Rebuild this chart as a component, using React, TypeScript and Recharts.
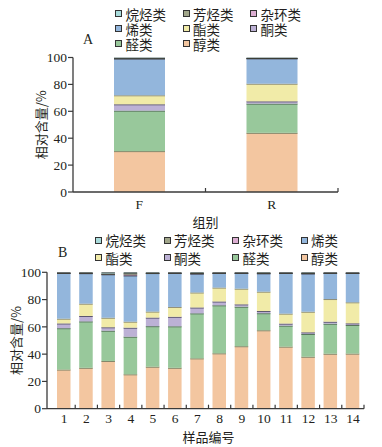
import { BarChart, Bar, XAxis, YAxis, Label } from 'recharts'

const groupsA = ['F', 'R']
const samplesB = ['1', '2', '3', '4', '5', '6', '7', '8', '9', '10', '11', '12', '13', '14']
const yTicks = [0, 20, 40, 60, 80, 100]

// values per class, A = groups F/R
const alcoholA = [30.4, 44.0]
const aldehydeA = [30.1, 21.7]
const ketoneA = [4.7, 1.7]
const esterA = [6.7, 13.1]
const olefinA = [27.4, 18.9]
const heteroA = [0.1, 0.1]
const aromaticA = [0.1, 0.1]
const alkaneA = [0.5, 0.4]

// B = samples 1..14
const alcoholB = [28.7, 30.0, 35.0, 25.2, 30.8, 30.0, 36.9, 40.6, 45.8, 57.5, 45.5, 38.1, 40.3, 40.4]
const aldehydeB = [30.3, 34.0, 22.2, 27.6, 29.7, 30.4, 33.0, 35.2, 29.0, 12.5, 15.4, 16.7, 22.0, 21.0]
const ketoneB = [3.5, 4.0, 2.5, 6.6, 6.3, 7.0, 4.3, 2.8, 1.7, 1.6, 1.5, 1.2, 1.5, 1.2]
const esterB = [3.5, 9.0, 7.0, 4.4, 4.4, 7.2, 11.0, 10.2, 11.5, 14.2, 7.3, 15.1, 16.6, 15.4]
const olefinB = [33.5, 22.3, 31.8, 33.7, 28.2, 24.9, 13.8, 10.7, 11.5, 13.4, 29.8, 28.0, 19.1, 21.5]
const heteroB = [0.1, 0.2, 0.2, 0.8, 0.1, 0.1, 0.2, 0.1, 0.1, 0.2, 0.1, 0.2, 0.1, 0.1]
const aromaticB = [0.1, 0.2, 0.3, 1.0, 0.1, 0.1, 0.3, 0.1, 0.1, 0.2, 0.1, 0.2, 0.1, 0.1]
const alkaneB = [0.3, 0.3, 1.0, 0.7, 0.4, 0.3, 0.5, 0.3, 0.3, 0.4, 0.3, 0.5, 0.3, 0.3]

// stack order, bottom -> top
const classes = [
  { key: 'alcohol', name: '醇类', fill: '#f3c6a0', edge: '#7e8468' },
  { key: 'aldehyde', name: '醛类', fill: '#98c89b', edge: '#56705a' },
  { key: 'ketone', name: '酮类', fill: '#bcb1d5', edge: '#55506a' },
  { key: 'ester', name: '酯类', fill: '#f1eba8', edge: '#8e8c76' },
  { key: 'olefin', name: '烯类', fill: '#93b6dc', edge: '#5f7288' },
  { key: 'hetero', name: '杂环类', fill: '#dcaed2', edge: '#4a3848' },
  { key: 'aromatic', name: '芳烃类', fill: '#a1a68a', edge: '#4c5040' },
  { key: 'alkane', name: '烷烃类', fill: '#a9dcdc', edge: '#262626' },
]

const rowsA = groupsA.map((name, i) => ({
  name,
  alcohol: alcoholA[i], aldehyde: aldehydeA[i], ketone: ketoneA[i], ester: esterA[i],
  olefin: olefinA[i], hetero: heteroA[i], aromatic: aromaticA[i], alkane: alkaneA[i],
}))
const rowsB = samplesB.map((name, i) => ({
  name,
  alcohol: alcoholB[i], aldehyde: aldehydeB[i], ketone: ketoneB[i], ester: esterB[i],
  olefin: olefinB[i], hetero: heteroB[i], aromatic: aromaticB[i], alkane: alkaneB[i],
}))

const INK = '#231f20'
const AXIS = '#3a3a3a'
const SERIF = '"Liberation Serif", "Times New Roman", serif'
const CJK = '"Noto Sans CJK SC", sans-serif'

function Segment(props: any) {
  const { x, y, width, height, fill, edge } = props
  if (!(height > 0)) return null
  return (
    <g>
      <rect x={x} y={y} width={width} height={height} fill={fill} />
      <line x1={x} x2={x + width} y1={y + 0.5} y2={y + 0.5} stroke={edge} strokeWidth={1} />
    </g>
  )
}

interface StackProps {
  data: any[]; w: number; h: number; top: number; left: number; right: number
  axisH: number; padL: number; barSize: number; xTitle: string
  tickDy: number; titleDy: number; yTitleX: number
}

function Stack({ data, w, h, top, left, right, axisH, padL, barSize, xTitle, tickDy, titleDy, yTitleX }: StackProps) {
  const band = (w - left - right - padL) / data.length
  const xTick = (p: any) => (
    <g>
      <line x1={p.x + band / 2} x2={p.x + band / 2} y1={p.y} y2={p.y - 4} stroke={AXIS} strokeWidth={1.2} />
      <text x={p.x} y={p.y + tickDy} textAnchor="middle" dominantBaseline="central"
        fontFamily={SERIF} fontSize={13.5} fill={INK}>{p.payload.value}</text>
    </g>
  )
  return (
    <BarChart width={w} height={h} data={data} barSize={barSize}
      margin={{ top, right, left: 0, bottom: 0 }}>
      <XAxis dataKey="name" height={axisH} interval={0} padding={{ left: padL, right: 0 }}
        tickSize={0} tickMargin={0} tick={xTick} tickLine={false}
        axisLine={{ stroke: AXIS, strokeWidth: 1.3 }}>
        <Label content={(lp: any) => {
          const vb = lp.viewBox
          return (
            <text x={vb.x + padL + (vb.width - padL) / 2} y={vb.y + titleDy} textAnchor="middle"
              dominantBaseline="central" fontFamily={CJK} fontSize={13} fill={INK}>{xTitle}</text>
          )
        }} />
      </XAxis>
      <YAxis width={left} domain={[0, 100]} ticks={yTicks} allowDataOverflow
        tickSize={5} tickMargin={1}
        tickLine={{ stroke: AXIS, strokeWidth: 1.2 }}
        axisLine={{ stroke: AXIS, strokeWidth: 1.3 }}
        tick={{ fontFamily: SERIF, fontSize: 13.5, fill: INK }}>
        <Label content={(lp: any) => {
          const vb = lp.viewBox
          const cy = vb.y + vb.height / 2
          return (
            <text x={yTitleX} y={cy} transform={`rotate(-90 ${yTitleX} ${cy})`} textAnchor="middle"
              dominantBaseline="central" fontFamily={CJK} fontSize={13} fill={INK}>相对含量/%</text>
          )
        }} />
      </YAxis>
      {classes.map((c) => (
        <Bar key={c.key} dataKey={c.key} name={c.name} stackId="s" fill={c.fill}
          isAnimationActive={false}
          shape={(p: any) => <Segment {...p} fill={c.fill} edge={c.edge} />} />
      ))}
    </BarChart>
  )
}

interface LegendProps { cols: number; x0: number; dx: number; y0: number; dy: number; fs: number }

function Legend_({ cols, x0, dx, y0, dy, fs }: LegendProps) {
  const items = [...classes].reverse()
  return (
    <>
      {items.map((c, i) => (
        <div key={c.key} style={{
          position: 'absolute', left: x0 + (i % cols) * dx, top: y0 + Math.floor(i / cols) * dy - 7,
          height: 14, lineHeight: '14px', display: 'flex', alignItems: 'center', zIndex: 2,
          fontFamily: CJK, fontSize: fs, color: INK, whiteSpace: 'nowrap',
        }}>
          <span style={{ width: 5, height: 5, border: '1px solid #333', background: c.fill, marginRight: 3.5 }} />
          <span style={{ lineHeight: '14px' }}>{c.name}</span>
        </div>
      ))}
    </>
  )
}

export default function App() {
  return (
    <div style={{ position: 'absolute', left: 0, top: 0, width: 382, height: 447, background: '#fff', overflow: 'hidden' }}>
      <Legend_ cols={3} x0={115} dx={67.5} y0={13.5} dy={15} fs={13.5} />
      <div style={{ position: 'absolute', left: 83, top: 32, fontFamily: SERIF, fontSize: 14, color: INK }}>A</div>
      <div style={{ position: 'absolute', left: 0, top: 0 }}>
        <Stack data={rowsA} w={382} h={230} top={57.5} left={73} right={44} axisH={38}
          padL={0} barSize={51} xTitle="组别" tickDy={12} titleDy={29.5} yTitleX={40} />
      </div>

      <Legend_ cols={4} x0={95} dx={68.5} y0={240} dy={17.7} fs={13.5} />
      <div style={{ position: 'absolute', left: 58, top: 245, fontFamily: SERIF, fontSize: 14, color: INK }}>B</div>
      <div style={{ position: 'absolute', left: 0, top: 230 }}>
        <Stack data={rowsB} w={382} h={217} top={42.3} left={47} right={18} axisH={38.3}
          padL={6} barSize={13.5} xTitle="样品编号" tickDy={10} titleDy={28} yTitleX={15} />
      </div>
    </div>
  )
}
